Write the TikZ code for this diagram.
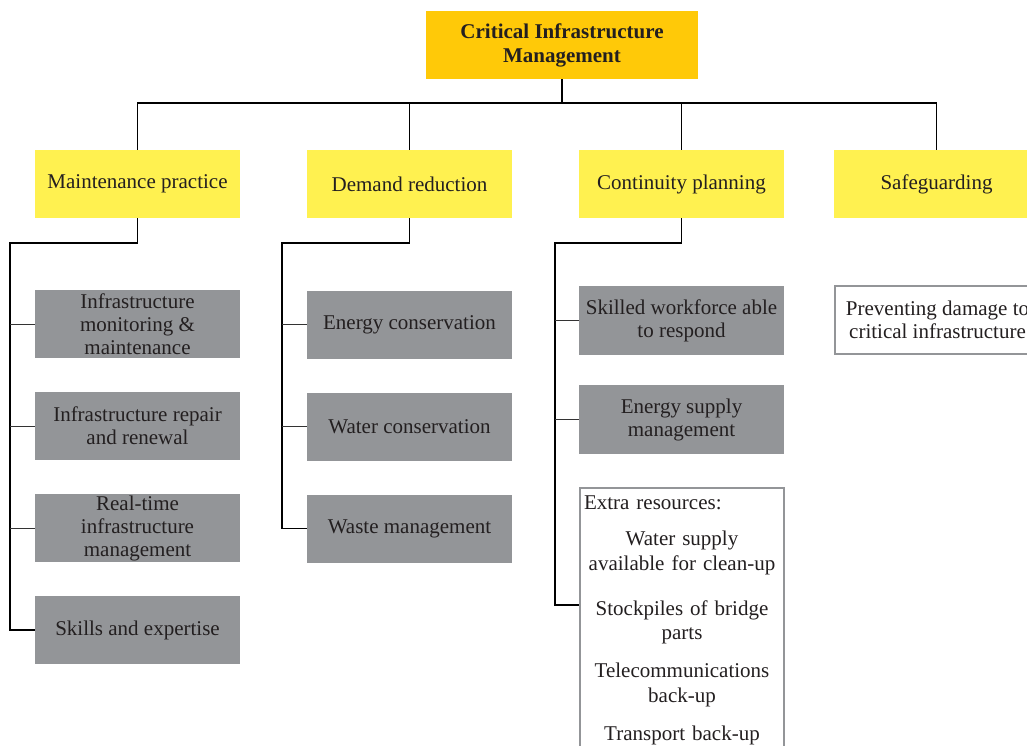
\documentclass[tikz,border=0pt]{standalone}
\usepackage{fontspec}
\setmainfont{Liberation Serif}
\usepackage{tikz}
\usetikzlibrary{calc}
\definecolor{titlegold}{RGB}{255,201,8}
\definecolor{areayellow}{RGB}{255,241,80}
\definecolor{actiongray}{RGB}{147,149,152}
\definecolor{inkdark}{RGB}{35,31,32}

\begin{document}
\begin{tikzpicture}[x=1pt, y=-1pt,
    every node/.style={font=\fontsize{21}{23}\selectfont, text=inkdark, align=center, inner sep=0pt},
    topbox/.style={fill=titlegold, minimum width=272, minimum height=68, font=\fontsize{21}{24}\selectfont\bfseries},
    areabox/.style={fill=areayellow, minimum width=205, minimum height=68},
    actionbox/.style={fill=actiongray, minimum width=205, minimum height=68},
    notebox/.style={draw=actiongray, line width=1.5, fill=white, minimum width=204, minimum height=68},
    trunk/.style={draw=black, line width=1.4},
    branch/.style={draw=black!80, line width=1}]
    \clip (0,0) rectangle (1027,746);

    % Top of the tree
    \node[topbox] (cim) at (562,45) {Critical Infrastructure\\Management};

    % Main areas
    \node[areabox] (maint) at (137.5,184) {Maintenance practice};
    \node[areabox] (demand) at (409.5,184) {Demand reduction};
    \node[areabox] (cont) at (681.5,184) {Continuity planning};
    \node[areabox] (safe) at (936.5,184) {Safeguarding};

    % Maintenance practice
    \node[actionbox] (monit) at (137.5,324) {Infrastructure\\monitoring \&\\maintenance};
    \node[actionbox] (repair) at (137.5,426) {Infrastructure repair\\and renewal};
    \node[actionbox] (realtime) at (137.5,528) {Real-time\\infrastructure\\management};
    \node[actionbox] (skills) at (137.5,630) {Skills and expertise};

    % Demand reduction
    \node[actionbox] (energy) at (409.5,324.5) {Energy conservation};
    \node[actionbox] (water) at (409.5,426.5) {Water conservation};
    \node[actionbox] (waste) at (409.5,528.5) {Waste management};

    % Continuity planning
    \node[actionbox, minimum height=69] (workforce) at (681.5,320.5) {Skilled workforce able\\to respond};
    \node[actionbox, minimum height=69] (supply) at (681.5,419.5) {Energy supply\\management};
    \node[notebox, anchor=north, text width=196, inner xsep=4, inner ysep=8, font=\fontsize{21}{24.5}\selectfont] (extra) at (682,487)
        {\makebox[\linewidth][l]{Extra resources:}\\[11.5pt]
         Water supply\\available for clean-up\\[20.5pt]
         Stockpiles of bridge\\parts\\[13.5pt]
         Telecommunications\\back-up\\[13.5pt]
         Transport back-up\\[10pt]\mbox{}};

    % Safeguarding
    \node[notebox, minimum width=205] (prevent) at (937.5,320) {Preventing damage to\\critical infrastructure};

    % Connectors from the top
    \coordinate (hub) at ($(cim.south)+(0,24)$);
    \draw[trunk] (cim.south) -- (hub);
    \draw[trunk] (hub) -| (maint.north);
    \draw[trunk] (hub) -| (demand.north);
    \draw[trunk] (hub) -| (cont.north);
    \draw[trunk] (hub) -| (safe.north);

    % Maintenance branch
    \coordinate (mbend) at (10,243);
    \draw[trunk] (maint.south) |- (mbend) -- (mbend |- skills.west) -- (skills.west);
    \draw[branch] (mbend |- monit.west) -- (monit.west);
    \draw[branch] (mbend |- repair.west) -- (repair.west);
    \draw[branch] (mbend |- realtime.west) -- (realtime.west);

    % Demand branch
    \coordinate (dbend) at (282,243);
    \draw[trunk] (demand.south) |- (dbend) -- (dbend |- waste.west) -- (waste.west);
    \draw[branch] (dbend |- energy.west) -- (energy.west);
    \draw[branch] (dbend |- water.west) -- (water.west);

    % Continuity branch
    \coordinate (cbend) at (555,243);
    \coordinate (xtra) at ($(extra.north west)+(0,118)$);
    \draw[trunk] (cont.south) |- (cbend) -- (cbend |- xtra) -- (xtra);
    \draw[branch] (cbend |- workforce.west) -- (workforce.west);
    \draw[branch] (cbend |- supply.west) -- (supply.west);
\end{tikzpicture}
\end{document}
